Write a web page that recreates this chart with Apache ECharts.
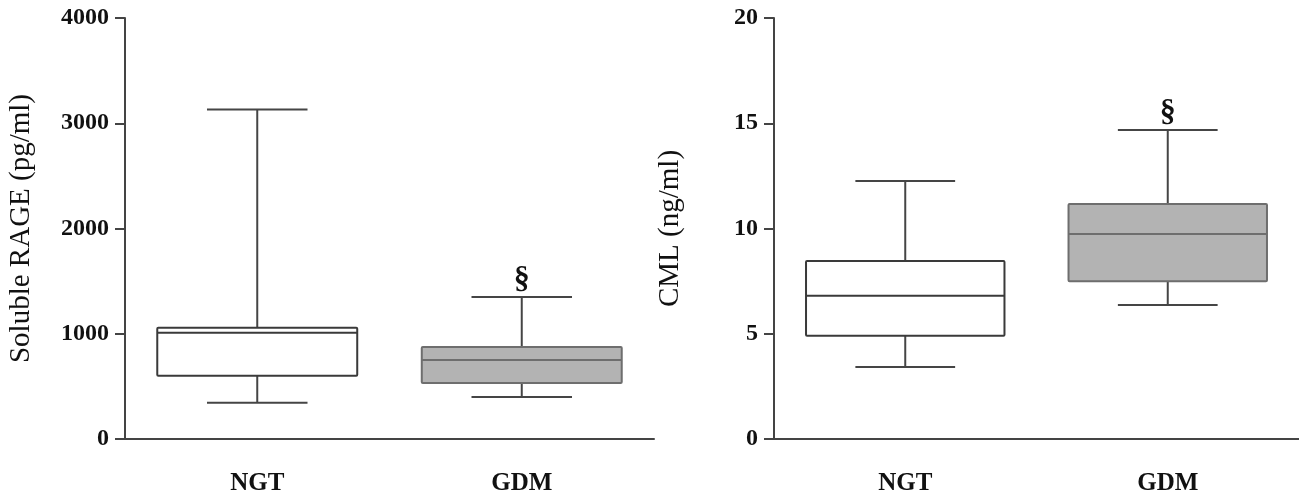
<!DOCTYPE html>
<html>
<head>
<meta charset="utf-8">
<script src="https://cdn.jsdelivr.net/npm/echarts@6/dist/echarts.min.js"></script>
<style>
html,body{margin:0;padding:0;background:#fff;}
#c{width:1299px;height:499px;}
</style>
</head>
<body>
<div id="c"></div>
<script>
// ---- data ----
const categories = ['NGT', 'GDM'];
// [min, Q1, median, Q3, max]
const rageNGT = [345, 600, 1010, 1058, 3130];
const rageGDM = [400, 532, 750, 874, 1349];
const cmlNGT = [3.42, 4.91, 6.81, 8.46, 12.26];
const cmlGDM = [6.37, 7.5, 9.74, 11.16, 14.68];
const sigMarks = ['', '\u00A7'];
const rageTicks = [0, 1000, 2000, 3000, 4000];
const cmlTicks = [0, 5, 10, 15, 20];
const fillColors = ['#ffffff', '#b3b3b3'];
const edgeColors = ['#3a3a3a', '#6e6e6e'];

const SERIF = '"Liberation Serif","DejaVu Serif",serif';

function renderBox(params, api) {
  const idx = api.value(0);
  const lo = api.value(1), q1 = api.value(2), med = api.value(3), q3 = api.value(4), hi = api.value(5);
  const band = api.size([1, 0])[0];
  const half = band * 0.378;
  const capHalf = band * 0.19;
  const pLo = api.coord([idx, lo]);
  const pQ1 = api.coord([idx, q1]);
  const pMed = api.coord([idx, med]);
  const pQ3 = api.coord([idx, q3]);
  const pHi = api.coord([idx, hi]);
  const x = pMed[0];
  const whiskerStyle = {stroke: '#454545', lineWidth: 2};
  const edge = edgeColors[idx];
  const children = [
    {type: 'line', shape: {x1: x, y1: pQ3[1], x2: x, y2: pHi[1]}, style: whiskerStyle},
    {type: 'line', shape: {x1: x, y1: pQ1[1], x2: x, y2: pLo[1]}, style: whiskerStyle},
    {type: 'line', shape: {x1: x - capHalf, y1: pHi[1], x2: x + capHalf, y2: pHi[1]}, style: whiskerStyle},
    {type: 'line', shape: {x1: x - capHalf, y1: pLo[1], x2: x + capHalf, y2: pLo[1]}, style: whiskerStyle},
    {type: 'rect', shape: {x: x - half, y: pQ3[1], width: half * 2, height: pQ1[1] - pQ3[1], r: 1},
      style: {fill: fillColors[idx], stroke: edge, lineWidth: 2}},
    {type: 'line', shape: {x1: x - half, y1: pMed[1], x2: x + half, y2: pMed[1]},
      style: {stroke: edge, lineWidth: 2}}
  ];
  const mark = sigMarks[idx];
  if (mark) {
    children.push({type: 'text', x: x, y: pHi[1] - 1,
      style: {text: mark, fill: '#111', font: 'bold 32px ' + SERIF, align: 'center', verticalAlign: 'bottom'}});
  }
  return {type: 'group', children: children};
}

function toRows(a, b) {
  return [[0].concat(a), [1].concat(b)];
}

function yAxisCfg(idx, ticks, name) {
  return {
    type: 'value', gridIndex: idx,
    min: ticks[0], max: ticks[ticks.length - 1], interval: ticks[1] - ticks[0],
    name: name, nameLocation: 'middle', nameGap: 89, nameRotate: 90,
    nameTextStyle: {fontFamily: SERIF, fontSize: 29, color: '#111'},
    axisLine: {show: true, lineStyle: {color: '#444', width: 2}},
    axisTick: {show: true, length: 10, lineStyle: {color: '#444', width: 2}},
    axisLabel: {fontFamily: SERIF, fontWeight: 'bold', fontSize: 24, color: '#111', margin: 16,
      formatter: function (v) { return String(v); }},
    splitLine: {show: false}
  };
}

function xAxisCfg(idx) {
  return {
    type: 'category', gridIndex: idx, data: categories,
    axisLine: {show: true, lineStyle: {color: '#444', width: 2}},
    axisTick: {show: false},
    axisLabel: {fontFamily: SERIF, fontWeight: 'bold', fontSize: 25, color: '#111', margin: 32}
  };
}

const chart = echarts.init(document.getElementById('c'), null, {renderer: 'canvas'});
chart.setOption({
  backgroundColor: '#fff',
  animation: false,
  grid: [
    {left: 125, top: 18, width: 529, height: 421},
    {left: 774, top: 18, width: 528, height: 421}
  ],
  xAxis: [xAxisCfg(0), xAxisCfg(1)],
  yAxis: [yAxisCfg(0, rageTicks, 'Soluble RAGE (pg/ml)'), yAxisCfg(1, cmlTicks, 'CML (ng/ml)')],
  series: [
    {type: 'custom', xAxisIndex: 0, yAxisIndex: 0, renderItem: renderBox,
      encode: {x: 0, y: [1, 2, 3, 4, 5]}, data: toRows(rageNGT, rageGDM), clip: false},
    {type: 'custom', xAxisIndex: 1, yAxisIndex: 1, renderItem: renderBox,
      encode: {x: 0, y: [1, 2, 3, 4, 5]}, data: toRows(cmlNGT, cmlGDM), clip: false}
  ]
});
</script>
</body>
</html>
